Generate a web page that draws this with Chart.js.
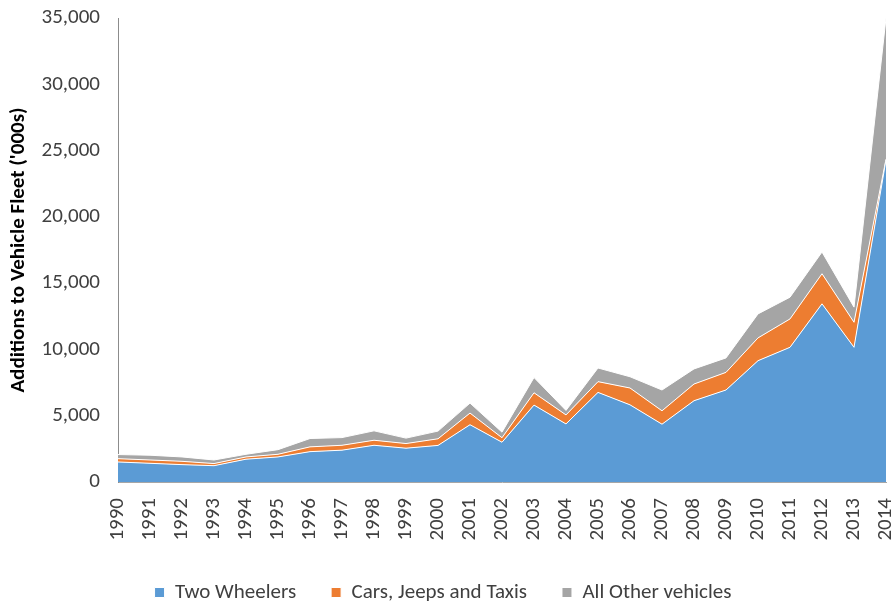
<!DOCTYPE html>
<html>
<head>
<meta charset="utf-8">
<script src="https://cdn.jsdelivr.net/npm/chart.js@4"></script>
<style>
  html, body { margin: 0; padding: 0; background: #fff; }
  #wrap { width: 894px; height: 606px; }
</style>
</head>
<body>
<div id="wrap"><canvas id="fleetChart" width="894" height="606"></canvas></div>
<script>
// years on the x axis
let years = ["1990", "1991", "1992", "1993", "1994", "1995", "1996", "1997", "1998", "1999",
    "2000", "2001", "2002", "2003", "2004", "2005", "2006", "2007", "2008", "2009",
    "2010", "2011", "2012", "2013", "2014"];

// additions, '000s
let twoWheelers = [1510, 1410, 1310, 1230, 1720, 1890, 2290, 2400, 2770, 2550,
    2760, 4320, 3000, 5800, 4380, 6760, 5820, 4360, 6130, 6940,
    9150, 10160, 13440, 10160, 24300];
let carsJeepsTaxis = [250, 250, 250, 160, 170, 200, 360, 370, 380, 350,
    500, 880, 340, 930, 680, 810, 1270, 1010, 1260, 1330,
    1720, 2140, 2270, 1890, 50];
let allOther = [310, 360, 330, 270, 200, 350, 630, 580, 710, 410,
    580, 750, 420, 1150, 340, 1030, 850, 1570, 1140, 1090,
    1810, 1640, 1640, 1140, 10650];

let yTicks = [0, 5000, 10000, 15000, 20000, 25000, 30000, 35000];

let fontFamily = "Calibri, Carlito, Lato, 'Open Sans', sans-serif";

function makeChart() {
    let ctx = document.getElementById("fleetChart");

    let chartData = {
        labels: years,
        datasets: [{
                label: "Two Wheelers",
                data: twoWheelers,
                backgroundColor: "#5b9bd5",
                borderColor: "#ffffff",
                borderWidth: 1,
                fill: "origin",
                pointRadius: 0,
                tension: 0
            },
            {
                label: "Cars, Jeeps and Taxis",
                data: carsJeepsTaxis,
                backgroundColor: "#ed7d31",
                borderColor: "#ffffff",
                borderWidth: 1,
                fill: "-1",
                pointRadius: 0,
                tension: 0
            },
            {
                label: "All Other vehicles",
                data: allOther,
                backgroundColor: "#a5a5a5",
                borderColor: "#ffffff",
                borderWidth: 1,
                fill: "-1",
                pointRadius: 0,
                tension: 0
            }
        ]
    };

    new Chart(ctx, {
        type: "line",
        data: chartData,
        options: {
            responsive: false,
            animation: false,
            layout: { padding: { left: 0, right: 8, top: 18, bottom: -7 } },
            plugins: {
                legend: {
                    position: "bottom",
                    labels: {
                        color: "#404040",
                        font: { family: fontFamily, size: 21 },
                        boxWidth: 10,
                        boxHeight: 10,
                        padding: 35,
                        useBorderRadius: false
                    }
                },
                tooltip: { enabled: false }
            },
            scales: {
                x: {
                    offset: false,
                    grid: { display: false, drawTicks: false },
                    border: { color: "#a6a6a6", width: 1 },
                    ticks: {
                        color: "#404040",
                        font: { family: fontFamily, size: 21 },
                        minRotation: 90,
                        maxRotation: 90,
                        autoSkip: false,
                        padding: 16
                    },
                    afterFit: function(axis) {
                        axis.height = 65;
                        axis.paddingLeft = 0;
                        axis.paddingRight = 0;
                    }
                },
                y: {
                    stacked: true,
                    min: 0,
                    max: 35000,
                    afterBuildTicks: function(axis) {
                        axis.ticks = yTicks.map(v => ({ value: v }));
                    },
                    afterFit: function(axis) {
                        axis.width = 118;
                        axis.paddingTop = 0;
                        axis.paddingBottom = 0;
                    },
                    grid: { display: false, drawTicks: false },
                    border: { color: "#8c8c8c", width: 1 },
                    ticks: {
                        color: "#404040",
                        font: { family: fontFamily, size: 21 },
                        padding: 18,
                        callback: v => v.toLocaleString("en-US")
                    },
                    title: {
                        display: true,
                        text: "Additions to Vehicle Fleet ('000s)",
                        color: "#000000",
                        font: { family: fontFamily, size: 21, weight: "bold" },
                        padding: { top: 6, bottom: 0 }
                    }
                }
            }
        }
    });
}

makeChart();
</script>
</body>
</html>
